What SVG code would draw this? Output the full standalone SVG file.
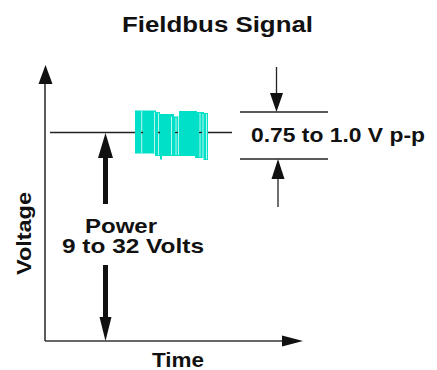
<svg xmlns="http://www.w3.org/2000/svg" width="437" height="370" viewBox="0 0 437 370">
<style>
.t{font-family:"Liberation Sans",Arial,sans-serif;font-weight:bold;fill:#111;}
.ln{stroke:#222;stroke-width:1.3;fill:none;}
.ax{stroke:#333;stroke-width:1.6;fill:none;}
.hd{fill:#111;}
.sig{fill:#00DFC8;}
.gap{stroke:#b8f7ec;stroke-width:1;}
</style>
<rect width="437" height="370" fill="#fff"/>
<g id="title"><text class="t" x="217.5" y="32" font-size="22" text-anchor="middle" textLength="191" lengthAdjust="spacingAndGlyphs">Fieldbus Signal</text></g>
<g id="connectors">
  <line class="ax" x1="45" y1="80" x2="45" y2="341"/>
  <polygon class="hd" points="38.5,84 52.5,84 45.5,65"/>
  <line class="ax" x1="45" y1="341" x2="285" y2="341"/>
  <polygon class="hd" points="282,335.5 282,346.5 303,341"/>
  <line class="ln" x1="50" y1="132.5" x2="232" y2="132.5"/>
  <rect class="hd" x="103" y="156" width="5" height="48"/>
  <polygon class="hd" points="98,158 113,158 105.5,133"/>
  <rect class="hd" x="103" y="265" width="5" height="54"/>
  <polygon class="hd" points="99.5,317 111.5,317 105.5,341"/>
  <line class="ln" x1="240" y1="112" x2="328" y2="112"/>
  <line class="ln" x1="240" y1="159" x2="328" y2="159"/>
  <line class="ln" x1="276.5" y1="67" x2="276.5" y2="95"/>
  <polygon class="hd" points="270,93 283,93 276.5,112"/>
  <line class="ln" x1="278" y1="177" x2="278" y2="207"/>
  <polygon class="hd" points="271.5,179 284.5,179 278,159"/>
</g>
<g id="signal">
  <rect class="sig" x="135" y="110.5" width="21" height="43"/>
  <rect class="sig" x="155" y="112" width="5" height="44"/>
  <rect class="sig" x="157" y="114" width="17" height="42"/>
  <rect class="sig" x="160" y="155" width="2" height="4.5"/>
  <rect class="sig" x="173" y="116.5" width="7" height="39.5"/>
  <rect class="sig" x="179" y="111" width="18" height="45"/>
  <rect class="sig" x="195" y="112" width="9" height="46"/>
  <rect class="sig" x="203.5" y="113" width="4.5" height="47"/>
  <line class="gap" x1="141.7" y1="111" x2="141.7" y2="153"/>
  <line class="gap" x1="154.5" y1="112" x2="154.5" y2="153"/>
  <line class="gap" x1="158.5" y1="113" x2="158.5" y2="155"/>
  <line class="gap" x1="171.5" y1="117" x2="171.5" y2="155"/>
  <line class="gap" x1="176" y1="118" x2="176" y2="155"/>
  <line class="gap" x1="178.5" y1="115" x2="178.5" y2="155"/>
  <line class="gap" x1="200" y1="113" x2="200" y2="157"/>
  <line class="gap" x1="203" y1="114" x2="203" y2="158"/>
  <line class="gap" x1="206.5" y1="114" x2="206.5" y2="159"/>
  <line class="ln" x1="141" y1="132.5" x2="143" y2="132.5"/>
  <line class="ln" x1="158" y1="132.5" x2="160" y2="132.5"/>
  <line class="ln" x1="175" y1="132.5" x2="178" y2="132.5"/>
  <line class="ln" x1="199" y1="132.5" x2="202" y2="132.5"/>
</g>
<g id="amplitude-label"><text class="t" x="251" y="142" font-size="21" textLength="174" lengthAdjust="spacingAndGlyphs">0.75 to 1.0 V p-p</text></g>
<g id="power-label">
  <text class="t" x="121" y="233" font-size="21" text-anchor="middle" textLength="72" lengthAdjust="spacingAndGlyphs">Power</text>
  <text class="t" x="133" y="253" font-size="21" text-anchor="middle" textLength="142" lengthAdjust="spacingAndGlyphs">9 to 32 Volts</text>
</g>
<g id="y-label"><text class="t" transform="translate(31,233.5) rotate(-90)" x="0" y="0" font-size="21" text-anchor="middle" textLength="83" lengthAdjust="spacingAndGlyphs">Voltage</text></g>
<g id="x-label"><text class="t" x="178" y="367" font-size="21" text-anchor="middle" textLength="52" lengthAdjust="spacingAndGlyphs">Time</text></g>
</svg>
